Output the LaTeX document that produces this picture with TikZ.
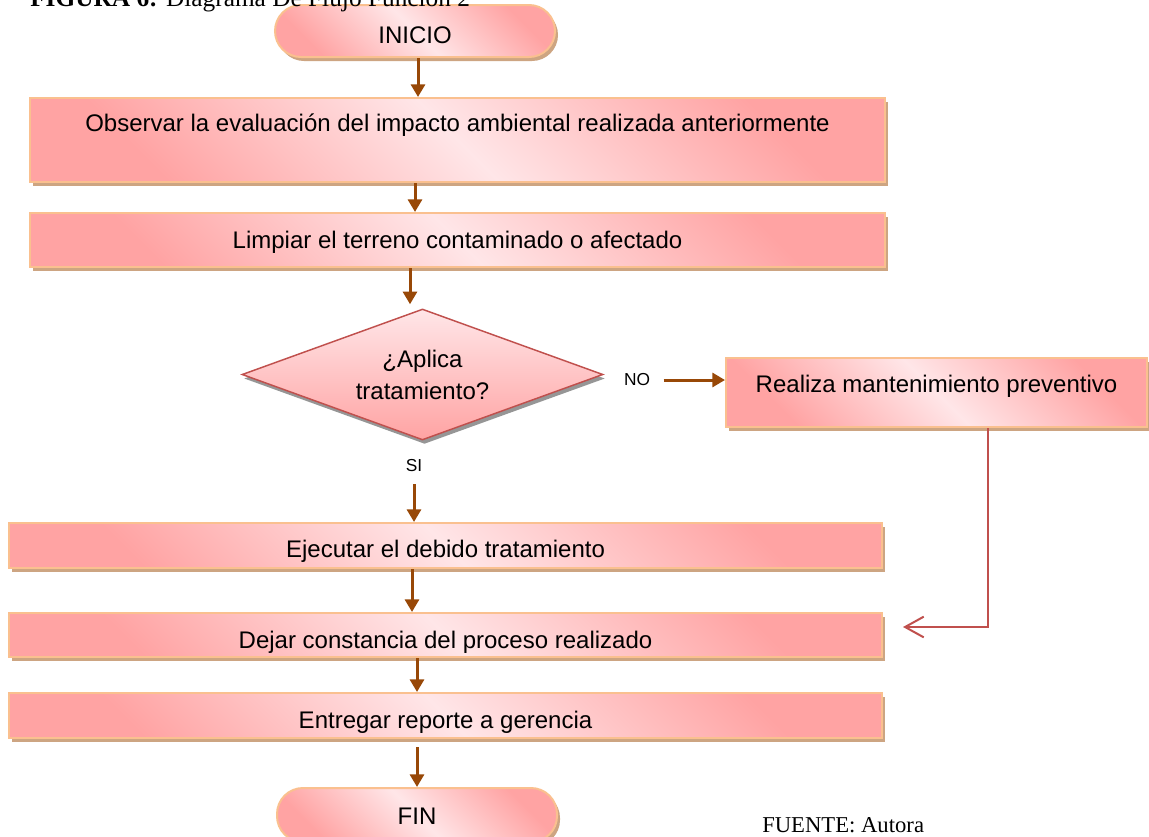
\documentclass[tikz,border=0pt]{standalone}
\usepackage{fontspec}
\setmainfont{Liberation Sans}
\newfontfamily\timesf{Liberation Serif}
\usetikzlibrary{shapes.geometric,shadows,arrows.meta}
\definecolor{arrbrown}{RGB}{152,72,7}
\definecolor{linkred}{RGB}{192,80,77}
\definecolor{edgeorange}{RGB}{250,192,143}
\definecolor{shadowtan}{RGB}{205,165,130}
\definecolor{pinkdark}{RGB}{255,163,163}
\definecolor{pinklight}{RGB}{255,230,232}
\definecolor{dshadow}{RGB}{150,150,150}
\tikzset{
  pinkfill/.style={top color=pinkdark, bottom color=pinkdark, middle color=pinklight, shading angle=-45},
  procbox/.style={draw=edgeorange, line width=1.5pt, inner sep=0pt, pinkfill,
    drop shadow={shadow xshift=2.25pt, shadow yshift=-3pt, fill=shadowtan, opacity=1},
    font=\fontsize{18}{22}\selectfont},
  termbox/.style={procbox, rounded corners=19.5pt},
  decbox/.style={diamond, aspect=2.76, draw=linkred, line width=1.1pt, inner sep=0pt,
    top color=pinklight, bottom color=pinkdark,
    drop shadow={shadow xshift=1.5pt, shadow yshift=-3pt, fill=dshadow, opacity=1},
    minimum width=270.75pt, minimum height=98.25pt, align=center,
    font=\fontsize{18}{24}\selectfont},
  lbl/.style={inner sep=0pt, font=\fontsize{13}{15}\selectfont},
  arr/.style={draw=arrbrown, line width=2.25pt, -{Triangle[length=9.5pt,width=10.5pt]}},
  redarr/.style={draw=linkred, line width=1.5pt, -{Straight Barb[length=14pt,width=15.5pt]}},
}
\begin{document}
\begin{tikzpicture}[x=0.75pt,y=-0.75pt]
\useasboundingbox (0,0) rectangle (1149,836);
% nodes
\node[termbox, minimum width=210pt, minimum height=39pt, text height=28.5pt, text depth=10.5pt] (ini) at (415,31) {INICIO};
\node[procbox, minimum width=641.25pt, minimum height=63pt, text height=24.75pt, text depth=38.25pt] (obs) at (457.5,140) {Observar la evaluación del impacto ambiental realizada anteriormente};
\node[procbox, minimum width=641.25pt, minimum height=40.5pt, text height=26.25pt, text depth=14.25pt] (limp) at (457.5,240) {Limpiar el terreno contaminado o afectado};
\node[decbox] (dec) at (422.5,374.5) {¿Aplica\\tratamiento?};
\node[lbl] (no) at (637,380) {NO};
\node[lbl] (si) at (414,466) {SI};
\node[procbox, minimum width=315.75pt, minimum height=51.75pt, text height=25.5pt, text depth=26.25pt] (real) at (936.5,392.5) {Realiza mantenimiento preventivo};
\node[procbox, minimum width=654.75pt, minimum height=33.75pt, text height=25.5pt, text depth=8.25pt] (ejec) at (445.5,545.5) {Ejecutar el debido tratamiento};
\node[procbox, minimum width=654.75pt, minimum height=33pt, text height=26.25pt, text depth=6.75pt] (dejar) at (445.5,635) {Dejar constancia del proceso realizado};
\node[procbox, minimum width=654.75pt, minimum height=33.75pt, text height=26.25pt, text depth=7.5pt] (entr) at (445.5,715.5) {Entregar reporte a gerencia};
\node[termbox, minimum width=210pt, minimum height=40.5pt, text height=27pt, text depth=13.5pt] (fin) at (417,815) {FIN};
\node[anchor=base west, inner sep=0pt, font=\timesf\fontsize{17}{19}\selectfont] (src) at (762,832) {FUENTE: Autora};
% title (cut at top, printed over the start box)
\node[anchor=base west, inner sep=0pt, font=\timesf\fontsize{19}{22}\selectfont] (title) at (30,6) {\textbf{FIGURA 6:} Diagrama De Flujo Función 2};
% columns for arrows
\coordinate (c418) at (418,0);
\coordinate (c415) at (415,0);
\coordinate (c410) at (410,0);
\coordinate (c412) at (412,0);
\coordinate (c417) at (417,0);
\coordinate (c988) at (988,0);
\coordinate (redend) at (903,627);
% connectors
\draw[arr] (ini.south -| c418) -- (obs.north -| c418);
\draw[arr] (obs.south -| c415) -- (limp.north -| c415);
\draw[arr, shorten >=3pt] (limp.south -| c410) -- (dec.north -| c410);
\draw[arr, shorten <=10pt] (no) -- (no -| real.west);
\draw[arr, shorten <=9pt] (si) -- (ejec.north -| si);
\draw[arr] (ejec.south -| c412) -- (dejar.north -| c412);
\draw[arr] (dejar.south -| c417) -- (entr.north -| c417);
\draw[arr, shorten <=6pt] (entr.south -| c417) -- (fin.north -| c417);
\draw[redarr] (real.south -| c988) |- (redend);
\end{tikzpicture}
\end{document}
